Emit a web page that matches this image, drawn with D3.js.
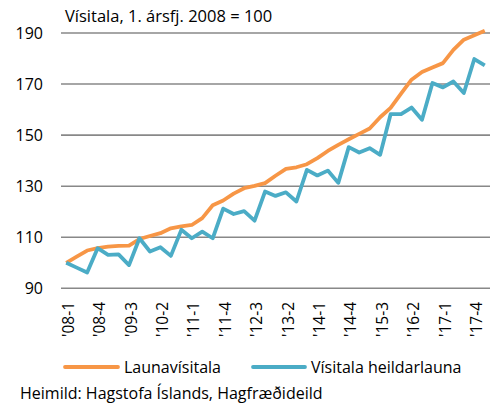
<!DOCTYPE html>
<html>
<head>
<meta charset="utf-8">
<script src="https://cdn.jsdelivr.net/npm/d3@7"></script>
<style>
  body { margin: 0; background: #fff; }
  svg text { font-family: "Open Sans", sans-serif; fill: #000; }
</style>
</head>
<body>
<svg id="chart" width="499" height="403"></svg>
<script>
// quarters 2008-1 .. 2018-1
const quarters = [];
for (let yr = 8; yr <= 18; yr++) {
  for (let q = 1; q <= 4; q++) {
    if (yr === 18 && q > 1) break;
    quarters.push(`'${String(yr).padStart(2, '0')}-${q}`);
  }
}

const launavisitala = [
  100, 102.4, 104.8, 105.7, 106.3, 106.6, 106.7, 109.3, 110.5, 111.6,
  113.5, 114.3, 114.8, 117.5, 122.5, 124.4, 127.1, 129.2, 130.1, 131.2,
  134.1, 136.8, 137.4, 138.6, 141, 143.8, 146.2, 148.4, 150.5, 152.6,
  157, 160.7, 166.3, 171.7, 174.7, 176.5, 178.2, 183.4, 187.4, 189.1, 190.9
];

const heildarlaun = [
  100, 98.1, 96.2, 105.7, 103.1, 103.3, 99.1, 109.6, 104.4, 106.1,
  102.7, 112.9, 109.6, 112.2, 109.6, 121.2, 119.1, 120.2, 116.5, 127.9,
  126.2, 127.6, 124, 136.4, 134.2, 136.1, 131.3, 145.3, 143.2, 144.9,
  142.3, 158.2, 158.2, 160.8, 156, 170.4, 168.7, 171, 166.5, 179.8, 177.3
];

const yTicks = [90, 110, 130, 150, 170, 190];
const series = [
  { name: 'Launavísitala', values: launavisitala, color: '#F79646' },
  { name: 'Vísitala heildarlauna', values: heildarlaun, color: '#4BACC6' }
];

const svg = d3.select('#chart');
const plotLeft = 61, plotRight = 490, plotTop = 33, plotBottom = 288.3;

const x = d3.scaleBand().domain(quarters).range([plotLeft, plotRight]);
const y = d3.scaleLinear().domain([90, 190]).range([plotBottom, plotTop]);

// gridlines
svg.append('g')
  .selectAll('line')
  .data(yTicks)
  .join('line')
  .attr('x1', plotLeft).attr('x2', plotRight)
  .attr('y1', d => y(d)).attr('y2', d => y(d))
  .attr('stroke', '#888888')
  .attr('stroke-width', 1.6);

// y labels
svg.append('g')
  .selectAll('text')
  .data(yTicks)
  .join('text')
  .attr('x', 43)
  .attr('y', d => y(d))
  .attr('dy', '0.36em')
  .attr('text-anchor', 'end')
  .attr('font-size', 16)
  .text(d => d);

// x labels, every third quarter
const xLabels = quarters.filter((d, i) => i % 3 === 0 && i < 40);
svg.append('g')
  .selectAll('text')
  .data(xLabels)
  .join('text')
  .attr('transform', d => `translate(${x(d) + x.bandwidth() / 2 + 2},302) rotate(-90)`)
  .attr('dy', '0.36em')
  .attr('text-anchor', 'end')
  .attr('font-size', 15.5)
  .text(d => d);

// lines
const line = d3.line()
  .x((d, i) => x(quarters[i]) + x.bandwidth() / 2)
  .y(d => y(d));

svg.append('g')
  .selectAll('path')
  .data(series)
  .join('path')
  .attr('d', d => line(d.values))
  .attr('fill', 'none')
  .attr('stroke', d => d.color)
  .attr('stroke-width', 3.8)
  .attr('stroke-linejoin', 'round');

// title
svg.append('text')
  .attr('x', 65).attr('y', 22)
  .attr('font-size', 16.5)
  .text('Vísitala, 1. ársfj. 2008 = 100');

// legend
const legendPos = [{ x1: 65, x2: 118, tx: 124 }, { x1: 253, x2: 305, tx: 311 }];
const legend = svg.append('g')
  .selectAll('g')
  .data(series)
  .join('g');
legend.append('line')
  .attr('x1', (d, i) => legendPos[i].x1)
  .attr('x2', (d, i) => legendPos[i].x2)
  .attr('y1', 367).attr('y2', 367)
  .attr('stroke', d => d.color)
  .attr('stroke-width', 3.8)
  .attr('stroke-linecap', 'round');
legend.append('text')
  .attr('x', (d, i) => legendPos[i].tx)
  .attr('y', 367)
  .attr('dy', '0.36em')
  .attr('font-size', 16)
  .text(d => d.name);

// source
svg.append('text')
  .attr('x', 20).attr('y', 393)
  .attr('dy', '0.36em')
  .attr('font-size', 16)
  .text('Heimild: Hagstofa Íslands, Hagfræðideild');
</script>
</body>
</html>
